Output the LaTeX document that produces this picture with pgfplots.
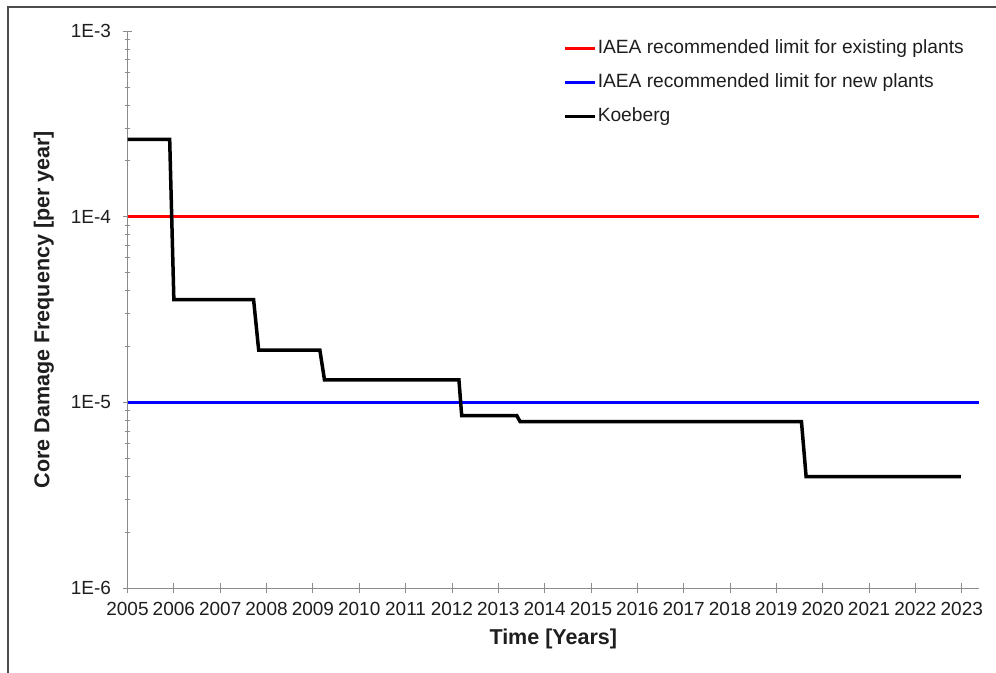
\documentclass[border=0pt]{standalone}
\usepackage{pgfplots}
\pgfplotsset{compat=1.18}
\usepackage{fontspec}
\setmainfont{Liberation Sans}
\definecolor{axgray}{RGB}{140,140,140}
\definecolor{txt}{RGB}{30,30,30}
\begin{document}
\begin{tikzpicture}
\useasboundingbox (0bp,0bp) rectangle (996bp,-673bp);
\draw[color=black!70, line width=1.3bp] (8bp,-673bp) -- (8bp,-7bp) -- (996bp,-7bp);
\begin{axis}[
  at={(127.5bp,-588bp)}, anchor=south west,
  scale only axis, width=851.5bp, height=557bp,
  xmin=2005, xmax=2023.37,
  ymode=log, ymin=1e-6, ymax=1e-3,
  xtick={2005,...,2023}, minor x tick num=1,
  ytick={1e-6,1e-5,1e-4,1e-3},
  yticklabels={1E-6,1E-5,1E-4,1E-3},
  axis lines*=left,
  axis line style={axgray, line width=0.8bp},
  tick style={axgray, line width=0.8bp},
  tick align=center, major tick length=10bp, minor tick length=5bp,
  /pgf/number format/assume math mode=true,
  xticklabel style={/pgf/number format/1000 sep={}, font=\fontsize{19bp}{20bp}\selectfont, text=txt, yshift=-6bp},
  yticklabel style={font=\fontsize{19bp}{20bp}\selectfont, text=txt, xshift=-8bp},
  xlabel={Time [Years]},
  ylabel={Core Damage Frequency [per year]},
  xlabel style={font=\bfseries\fontsize{21.5bp}{24bp}\selectfont, text=txt, yshift=-6bp},
  ylabel style={font=\bfseries\fontsize{21.5bp}{24bp}\selectfont, text=txt, yshift=10bp},
  legend cell align=left,
  legend style={draw=none, fill=none, at={(0.5115,0.985)}, anchor=north west,
    font=\fontsize{19.2bp}{20bp}\selectfont, text=txt,
    nodes={inner sep=0pt, text height=14bp, text depth=4bp},
    row sep=16bp, column sep=1bp, inner sep=0pt},
  legend image code/.code={\draw[#1] (0bp,0bp) -- (30bp,0bp);},
]
\addplot[red, line width=3.5bp] coordinates {(2005,1e-4) (2023.37,1e-4)};
\addlegendentry{IAEA recommended limit for existing plants}
\addplot[blue, line width=3.5bp] coordinates {(2005,1e-5) (2023.37,1e-5)};
\addlegendentry{IAEA recommended limit for new plants}
\addplot[black, line width=3.5bp, line join=miter] coordinates {
(2005,2.61e-4) (2005.91,2.61e-4) (2006.00,3.58e-5) (2007.72,3.58e-5)
(2007.83,1.91e-5) (2009.15,1.91e-5) (2009.25,1.32e-5) (2012.15,1.32e-5)
(2012.21,8.47e-6) (2013.40,8.47e-6) (2013.47,7.87e-6) (2019.54,7.87e-6)
(2019.64,3.98e-6) (2022.98,3.98e-6)};
\addlegendentry{Koeberg}
\end{axis}
\end{tikzpicture}
\end{document}
